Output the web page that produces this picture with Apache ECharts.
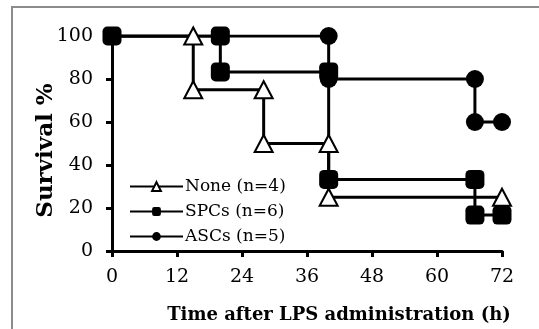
<!DOCTYPE html>
<html><head><meta charset="utf-8">
<script src="https://cdn.jsdelivr.net/npm/echarts@6/dist/echarts.min.js"></script>
<style>html,body{margin:0;padding:0;background:#fff}#c{width:539px;height:329px}</style>
</head><body><div id="c"></div>
<script>
var xTicks = [0, 12, 24, 36, 48, 60, 72];
var yTicks = [0, 20, 40, 60, 80, 100];
var seriesNames = ['None (n=4)', 'SPCs (n=6)', 'ASCs (n=5)'];
var noneX = [0, 15, 15, 28, 28, 40, 40, 72];
var noneY = [100, 100, 75, 75, 50, 50, 25, 25];
var spcX = [0, 20, 20, 40, 40, 67, 67, 72];
var spcY = [100, 100, 83.3, 83.3, 33.3, 33.3, 16.7, 16.7];
var ascX = [0, 40, 40, 67, 67, 72];
var ascY = [100, 100, 80, 80, 60, 60];

function pts(xs, ys, hideFirst) {
  return xs.map(function (x, i) {
    var p = { value: [x, ys[i]] };
    if (hideFirst && i === 0) p.symbol = 'none';
    return p;
  });
}
var serif = 'DejaVu Serif';
var chart = echarts.init(document.getElementById('c'));
chart.setOption({
  animation: false,
  backgroundColor: '#fff',
  graphic: [{
    type: 'rect', shape: { x: 12, y: 7, width: 700, height: 500 },
    style: { fill: 'none', stroke: '#8c8c8c', lineWidth: 2 }, z: -10
  }],
  grid: { left: 112, right: 37, top: 36, bottom: 76 },
  legend: {
    orient: 'vertical', left: 124, top: 173, itemGap: 8,
    itemWidth: 53, itemHeight: 11,
    textStyle: { fontFamily: serif, fontSize: 17, color: '#000', padding: [0, 0, 0, -3] },
    data: seriesNames
  },
  xAxis: {
    type: 'value', min: 0, max: 72, interval: 12,
    name: 'Time after LPS administration (h)', nameLocation: 'middle', nameGap: 55,
    nameMoveOverlap: false,
    nameTextStyle: { fontFamily: serif, fontWeight: 'bold', fontSize: 18, color: '#000', padding: [0, 0, 0, 64] },
    axisLine: { lineStyle: { color: '#000', width: 3 } },
    axisTick: { length: 6, lineStyle: { color: '#000', width: 3 } },
    axisLabel: { fontFamily: serif, fontSize: 19, color: '#000', margin: 17,
      formatter: function (v) { return xTicks.indexOf(v) >= 0 ? String(v) : ''; } },
    splitLine: { show: false }
  },
  yAxis: {
    type: 'value', min: 0, max: 100, interval: 20,
    name: 'Survival %', nameLocation: 'middle', nameGap: 54,
    nameMoveOverlap: false,
    nameTextStyle: { fontFamily: serif, fontWeight: 'bold', fontSize: 23, color: '#000', padding: [0, 14, 0, 0] },
    axisLine: { show: true, lineStyle: { color: '#000', width: 3 } },
    axisTick: { show: true, length: 6, lineStyle: { color: '#000', width: 3 } },
    axisLabel: { fontFamily: serif, fontSize: 19, color: '#000', margin: 19,
      formatter: function (v) { return yTicks.indexOf(v) >= 0 ? String(v) : ''; } },
    splitLine: { show: false }
  },
  series: [
    { name: seriesNames[0], type: 'line', data: pts(noneX, noneY, true),
      symbol: 'triangle', symbolSize: [18, 17], showAllSymbol: true,
      lineStyle: { color: '#000', width: 3 },
      itemStyle: { color: '#fff', borderColor: '#000', borderWidth: 2 } },
    { name: seriesNames[1], type: 'line', data: pts(spcX, spcY, false),
      symbol: 'roundRect', symbolSize: 19, showAllSymbol: true,
      lineStyle: { color: '#000', width: 3 },
      itemStyle: { color: '#000', borderColor: '#000', borderWidth: 0 } },
    { name: seriesNames[2], type: 'line', data: pts(ascX, ascY, true),
      symbol: 'circle', symbolSize: 18, showAllSymbol: true,
      lineStyle: { color: '#000', width: 3 },
      itemStyle: { color: '#000', borderColor: '#000', borderWidth: 0 } }
  ]
});
</script></body></html>
